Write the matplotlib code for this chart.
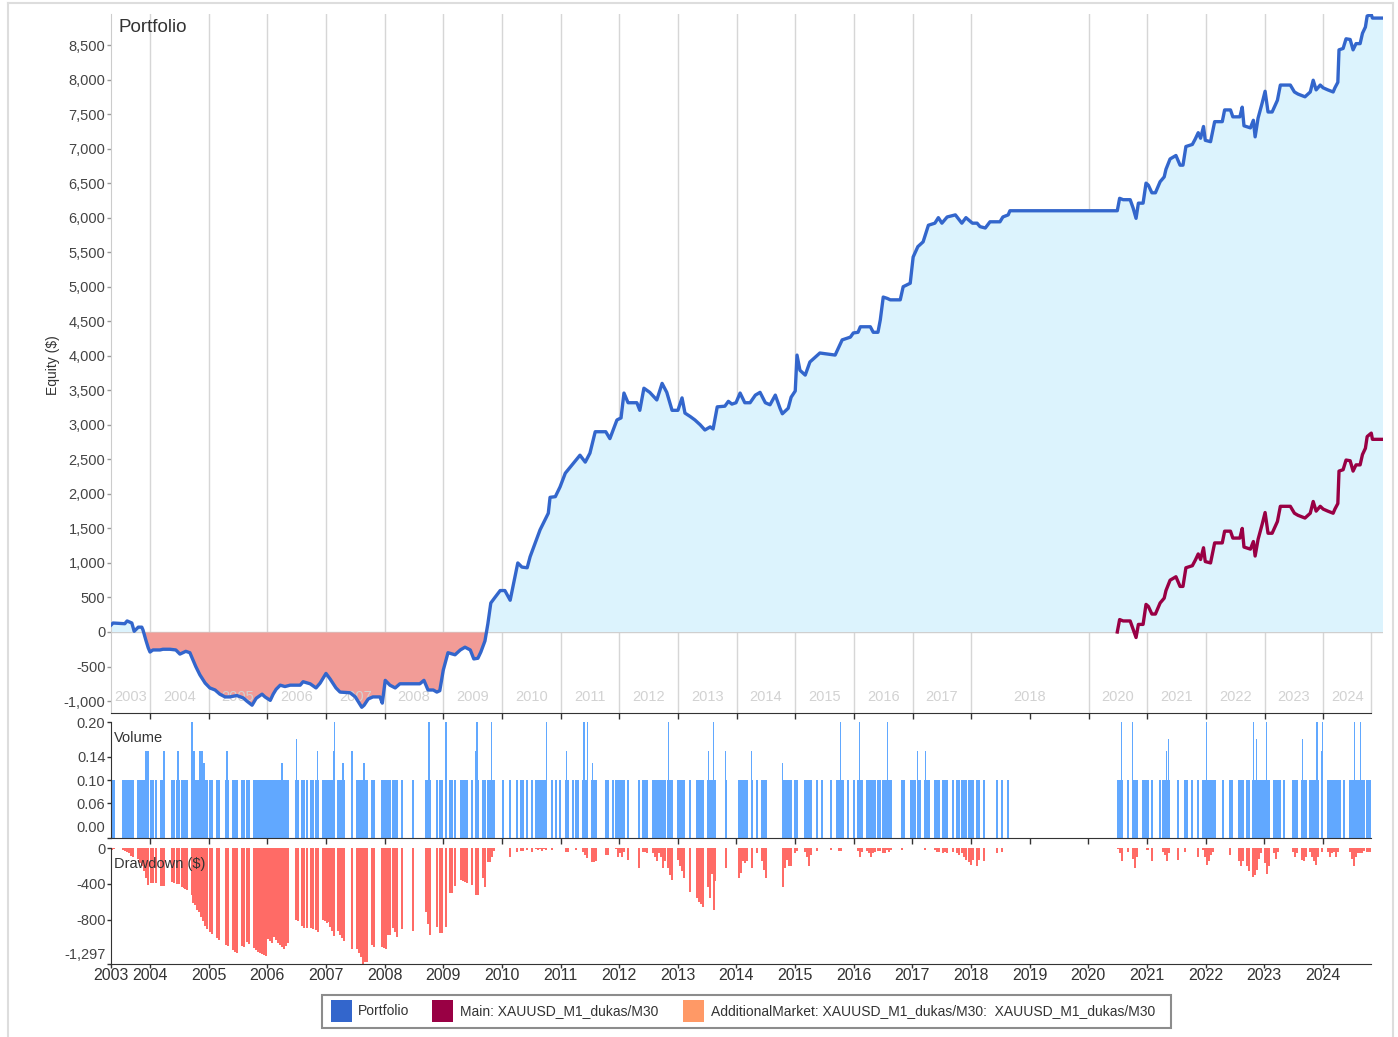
import matplotlib
matplotlib.use('Agg')
import matplotlib.pyplot as plt
from matplotlib.patches import Rectangle
from matplotlib.lines import Line2D
from matplotlib.ticker import FuncFormatter
import matplotlib.transforms as mtransforms
import numpy as np

plt.rcParams['font.family'] = ['Liberation Sans', 'DejaVu Sans']

# ---------------- data ----------------
# Portfolio equity ($) by decimal year
eq_x = [2003.335, 2003.37, 2003.57, 2003.61, 2003.69, 2003.73, 2003.80, 2003.86, 2003.88, 2003.93,
        2003.97, 2004.00, 2004.05, 2004.17, 2004.22, 2004.34, 2004.44, 2004.51, 2004.61, 2004.68,
        2004.73, 2004.78, 2004.85, 2004.94, 2005.02, 2005.11, 2005.19, 2005.28, 2005.36, 2005.48,
        2005.59, 2005.65, 2005.74, 2005.81, 2005.91, 2005.96, 2006.05, 2006.10, 2006.15, 2006.22,
        2006.30, 2006.39, 2006.56, 2006.61, 2006.73, 2006.83, 2006.90, 2007.00, 2007.07, 2007.17,
        2007.24, 2007.41, 2007.50, 2007.61, 2007.65, 2007.72, 2007.80, 2007.92, 2007.96, 2008.01,
        2008.09, 2008.18, 2008.26, 2008.43, 2008.60, 2008.67, 2008.74, 2008.83, 2008.89, 2008.94,
        2009.00, 2009.08, 2009.20, 2009.29, 2009.37, 2009.46, 2009.52, 2009.59, 2009.64, 2009.71,
        2009.76, 2009.81, 2009.88, 2009.97, 2010.05, 2010.14, 2010.27, 2010.34, 2010.43, 2010.48,
        2010.65, 2010.79, 2010.82, 2010.91, 2010.99, 2011.08, 2011.33, 2011.42, 2011.50, 2011.59,
        2011.77, 2011.84, 2011.96, 2012.03, 2012.08, 2012.15, 2012.30, 2012.35, 2012.42, 2012.52,
        2012.64, 2012.73, 2012.81, 2012.90, 2013.00, 2013.07, 2013.12, 2013.21, 2013.29, 2013.38,
        2013.46, 2013.55, 2013.60, 2013.67, 2013.80, 2013.86, 2013.92, 2013.99, 2014.06, 2014.14,
        2014.23, 2014.32, 2014.40, 2014.49, 2014.57, 2014.66, 2014.74, 2014.78, 2014.88, 2014.93,
        2015.00, 2015.03, 2015.08, 2015.17, 2015.25, 2015.42, 2015.68, 2015.80, 2015.94, 2015.99,
        2016.07, 2016.11, 2016.28, 2016.33, 2016.41, 2016.45, 2016.50, 2016.57, 2016.62, 2016.79,
        2016.84, 2016.96, 2017.01, 2017.09, 2017.18, 2017.27, 2017.38, 2017.44, 2017.50, 2017.59,
        2017.73, 2017.84, 2017.91, 2018.02, 2018.10, 2018.15, 2018.24, 2018.32, 2018.49, 2018.54,
        2018.63, 2018.66, 2020.49, 2020.53, 2020.59, 2020.71, 2020.76, 2020.81, 2020.85, 2020.93,
        2020.98, 2021.02, 2021.08, 2021.14, 2021.22, 2021.29, 2021.32, 2021.39, 2021.49, 2021.56,
        2021.61, 2021.66, 2021.77, 2021.82, 2021.87, 2021.91, 2021.96, 2021.99, 2022.08, 2022.15,
        2022.28, 2022.32, 2022.42, 2022.46, 2022.58, 2022.62, 2022.65, 2022.76, 2022.81, 2022.84,
        2022.89, 2022.96, 2023.01, 2023.06, 2023.13, 2023.22, 2023.27, 2023.44, 2023.51, 2023.57,
        2023.69, 2023.78, 2023.83, 2023.88, 2023.95, 2024.00, 2024.08, 2024.17, 2024.20, 2024.25,
        2024.27, 2024.34, 2024.39, 2024.46, 2024.51, 2024.56, 2024.63, 2024.67, 2024.72, 2024.75,
        2024.82, 2024.84, 2025.02]
eq_y = [100, 130, 120, 160, 130, 10, 70, 70, 30, -120,
        -230, -290, -260, -260, -250, -250, -260, -320, -280, -300,
        -400, -500, -620, -740, -810, -840, -900, -940, -940, -920,
        -955, -1000, -1060, -960, -900, -940, -990, -900, -830, -770,
        -790, -770, -770, -720, -750, -810, -740, -600, -680, -810,
        -870, -880, -940, -1090, -1060, -970, -940, -940, -1030, -700,
        -770, -810, -750, -750, -750, -700, -840, -840, -870, -850,
        -550, -300, -330, -260, -220, -260, -390, -380, -290, -130,
        120, 420, 500, 600, 600, 460, 1000, 940, 930, 1090,
        1480, 1720, 1950, 1960, 2100, 2300, 2560, 2460, 2590, 2900,
        2900, 2800, 3070, 3100, 3460, 3320, 3320, 3210, 3530, 3470,
        3360, 3600, 3470, 3210, 3210, 3390, 3170, 3120, 3070, 3000,
        2925, 2970, 2940, 3260, 3270, 3340, 3300, 3320, 3460, 3320,
        3320, 3430, 3470, 3320, 3290, 3430, 3240, 3160, 3240, 3400,
        3490, 4010, 3790, 3720, 3910, 4040, 4010, 4230, 4270, 4330,
        4340, 4420, 4420, 4340, 4340, 4520, 4850, 4830, 4810, 4810,
        5000, 5050, 5430, 5580, 5650, 5890, 5920, 6000, 5920, 6010,
        6040, 5920, 6000, 5920, 5920, 5870, 5850, 5940, 5940, 6010,
        6040, 6100, 6100, 6280, 6260, 6260, 6140, 5990, 6210, 6210,
        6500, 6470, 6360, 6360, 6520, 6590, 6700, 6850, 6900, 6760,
        6760, 7030, 7060, 7140, 7230, 7150, 7320, 7120, 7100, 7390,
        7390, 7560, 7560, 7460, 7460, 7600, 7330, 7300, 7410, 7170,
        7440, 7660, 7830, 7530, 7530, 7700, 7920, 7920, 7820, 7790,
        7750, 7820, 7990, 7850, 7920, 7880, 7850, 7820, 7880, 7960,
        8430, 8450, 8590, 8580, 8430, 8520, 8520, 8670, 8760, 8920,
        8940, 8890, 8890]

# Main: XAUUSD_M1_dukas/M30 equity ($)
main_x = [2020.49, 2020.53, 2020.59, 2020.71, 2020.76, 2020.81, 2020.85, 2020.93, 2020.98, 2021.02,
          2021.08, 2021.14, 2021.22, 2021.29, 2021.32, 2021.39, 2021.49, 2021.56, 2021.61, 2021.66,
          2021.77, 2021.82, 2021.87, 2021.91, 2021.96, 2021.99, 2022.08, 2022.15, 2022.28, 2022.32,
          2022.42, 2022.46, 2022.58, 2022.62, 2022.65, 2022.76, 2022.81, 2022.84, 2022.89, 2022.96,
          2023.01, 2023.06, 2023.13, 2023.22, 2023.27, 2023.44, 2023.51, 2023.57, 2023.69, 2023.78,
          2023.83, 2023.88, 2023.95, 2024.00, 2024.08, 2024.17, 2024.20, 2024.25, 2024.27, 2024.34,
          2024.39, 2024.46, 2024.51, 2024.56, 2024.63, 2024.67, 2024.72, 2024.75, 2024.82, 2024.84,
          2025.02]
main_y = [0, 180, 160, 160, 40, -80, 110, 110, 400, 370,
          260, 260, 420, 490, 600, 750, 800, 660, 660, 930,
          960, 1040, 1130, 1050, 1220, 1020, 1000, 1290, 1290, 1460,
          1460, 1360, 1360, 1500, 1230, 1200, 1310, 1100, 1340, 1560,
          1730, 1430, 1430, 1600, 1820, 1820, 1720, 1690, 1650, 1720,
          1890, 1750, 1820, 1780, 1750, 1720, 1780, 1860, 2330, 2350,
          2490, 2480, 2330, 2420, 2420, 2570, 2660, 2830, 2880, 2790,
          2790]

# Trades: date (decimal year) and drawdown ($) at that trade
trade_dates = [
    2003.352, 2003.386, 2003.540, 2003.574, 2003.608, 2003.642, 2003.676, 2003.710, 2003.795, 2003.829,
    2003.864, 2003.898, 2003.932, 2003.966, 2004.017, 2004.051, 2004.102, 2004.188, 2004.222, 2004.239,
    2004.375, 2004.409, 2004.460, 2004.494, 2004.546, 2004.580, 2004.597, 2004.631, 2004.716, 2004.733,
    2004.767, 2004.801, 2004.835, 2004.870, 2004.904, 2004.938, 2004.972, 2005.023, 2005.057, 2005.142,
    2005.176, 2005.296, 2005.330, 2005.415, 2005.449, 2005.483, 2005.569, 2005.603, 2005.654, 2005.688,
    2005.773, 2005.807, 2005.841, 2005.876, 2005.910, 2005.944, 2005.978, 2006.012, 2006.046, 2006.080,
    2006.114, 2006.148, 2006.182, 2006.217, 2006.251, 2006.285, 2006.319, 2006.353, 2006.489, 2006.523,
    2006.592, 2006.626, 2006.677, 2006.745, 2006.779, 2006.830, 2006.864, 2006.950, 2006.984, 2007.018,
    2007.035, 2007.069, 2007.103, 2007.137, 2007.205, 2007.240, 2007.274, 2007.308, 2007.444, 2007.529,
    2007.563, 2007.598, 2007.632, 2007.666, 2007.700, 2007.785, 2007.819, 2007.956, 2007.990, 2008.024,
    2008.058, 2008.092, 2008.143, 2008.177, 2008.211, 2008.297, 2008.484, 2008.706, 2008.740, 2008.774,
    2008.893, 2008.945, 2008.979, 2009.047, 2009.115, 2009.149, 2009.200, 2009.303, 2009.337, 2009.371,
    2009.405, 2009.490, 2009.558, 2009.592, 2009.678, 2009.712, 2009.763, 2009.797, 2009.831, 2009.865,
    2010.019, 2010.138, 2010.257, 2010.326, 2010.360, 2010.428, 2010.513, 2010.581, 2010.615, 2010.650,
    2010.684, 2010.718, 2010.752, 2010.854, 2010.922, 2010.991, 2011.093, 2011.127, 2011.212, 2011.263,
    2011.297, 2011.383, 2011.417, 2011.451, 2011.536, 2011.570, 2011.604, 2011.775, 2011.809, 2011.894,
    2011.945, 2011.979, 2012.014, 2012.048, 2012.082, 2012.150, 2012.337, 2012.406, 2012.440, 2012.474,
    2012.576, 2012.610, 2012.644, 2012.678, 2012.713, 2012.747, 2012.781, 2012.832, 2012.866, 2012.900,
    2013.002, 2013.037, 2013.071, 2013.105, 2013.207, 2013.326, 2013.360, 2013.395, 2013.429, 2013.514,
    2013.548, 2013.582, 2013.616, 2013.633, 2013.821, 2014.042, 2014.077, 2014.111, 2014.145, 2014.179,
    2014.264, 2014.349, 2014.435, 2014.469, 2014.503, 2014.793, 2014.827, 2014.861, 2014.895, 2014.929,
    2014.997, 2015.031, 2015.168, 2015.202, 2015.236, 2015.270, 2015.372, 2015.458, 2015.611, 2015.713,
    2015.747, 2015.782, 2015.816, 2015.901, 2016.003, 2016.071, 2016.106, 2016.140, 2016.225, 2016.259,
    2016.293, 2016.327, 2016.361, 2016.412, 2016.447, 2016.498, 2016.532, 2016.566, 2016.600, 2016.634,
    2016.822, 2016.856, 2016.975, 2017.009, 2017.043, 2017.094, 2017.129, 2017.214, 2017.248, 2017.282,
    2017.384, 2017.418, 2017.452, 2017.521, 2017.555, 2017.589, 2017.691, 2017.759, 2017.793, 2017.845,
    2017.879, 2017.913, 2017.964, 2017.998, 2018.032, 2018.100, 2018.134, 2018.220, 2018.441, 2018.527,
    2018.629, 2020.504, 2020.539, 2020.573, 2020.675, 2020.760, 2020.794, 2020.828, 2020.931, 2020.965,
    2020.999, 2021.016, 2021.084, 2021.221, 2021.272, 2021.306, 2021.340, 2021.374, 2021.527, 2021.647,
    2021.681, 2021.766, 2021.868, 2021.954, 2021.988, 2022.022, 2022.056, 2022.090, 2022.124, 2022.158,
    2022.295, 2022.414, 2022.448, 2022.567, 2022.602, 2022.636, 2022.704, 2022.738, 2022.806, 2022.840,
    2022.874, 2022.908, 2022.943, 2022.977, 2023.011, 2023.045, 2023.079, 2023.164, 2023.198, 2023.232,
    2023.267, 2023.335, 2023.488, 2023.522, 2023.556, 2023.642, 2023.676, 2023.710, 2023.778, 2023.812,
    2023.846, 2023.880, 2023.914, 2023.983, 2024.085, 2024.119, 2024.153, 2024.187, 2024.221, 2024.255,
    2024.290, 2024.358, 2024.460, 2024.494, 2024.528, 2024.562, 2024.596, 2024.631, 2024.665, 2024.699,
    2024.750, 2024.784, 2024.812]
trade_dd = [
    -20, -10, -20, -30, -40, -60, -90, -100, -120, -170,
    -200, -260, -330, -410, -390, -390, -390, -420, -430, -430,
    -380, -390, -400, -400, -440, -450, -460, -470, -520, -610,
    -640, -690, -720, -770, -820, -870, -910, -940, -960, -1010,
    -1030, -1090, -1100, -1140, -1160, -1170, -1100, -1110, -1050, -1070,
    -1120, -1140, -1160, -1170, -1190, -1200, -1210, -1020, -1040, -1060,
    -1000, -1030, -1060, -1080, -1110, -1130, -1100, -1060, -800, -820,
    -870, -890, -900, -900, -910, -920, -940, -800, -820, -840,
    -830, -880, -930, -980, -930, -970, -1010, -1040, -1130, -1130,
    -1170, -1220, -1297, -1270, -1280, -1090, -1110, -1110, -1120, -1130,
    -970, -970, -890, -940, -990, -910, -930, -720, -850, -970,
    -880, -950, -950, -880, -500, -500, -430, -360, -370, -380,
    -390, -410, -520, -520, -330, -440, -160, -160, -100, -30,
    0, -100, -40, -30, -30, -20, -40, -10, -20, -10,
    -30, -10, -20, -20, 0, 0, -40, -40, 0, -20,
    0, -50, -80, -110, -160, -160, -150, -80, -80, 0,
    -10, -100, -60, -100, -40, -130, -220, -40, -50, -60,
    -60, -100, -150, -60, -100, -220, -150, -220, -300, -360,
    -130, -200, -260, -340, -490, -560, -600, -630, -660, -440,
    -560, -290, -690, -370, -220, -330, -280, -150, -170, -150,
    -220, -60, -150, -250, -340, -440, -220, -130, -200, -200,
    -60, -30, -40, -100, -200, -80, -30, 0, -20, 0,
    -30, -30, 0, 0, 0, -30, -100, -40, -30, -60,
    -100, -60, -40, -30, -30, -60, -60, -20, -40, -20,
    -20, 0, 0, 0, 0, 0, 0, -20, 0, 0,
    -20, -40, -40, -60, -40, -60, -40, -60, -80, -60,
    -100, -130, -160, -190, -130, -200, -130, -150, -60, -40,
    0, -10, -60, -150, -40, -120, -220, -100, 0, 0,
    -20, -20, -150, 0, -40, -80, -150, -60, -130, -40,
    0, 0, -100, -20, -100, -190, -150, -80, -40, 0,
    0, -80, 0, -150, -200, -150, -200, -260, -320, -300,
    -250, -120, -60, 0, -170, -290, -200, -60, -120, -40,
    0, 0, -40, -100, -60, -130, -150, -100, -40, -100,
    -150, -190, -100, -40, -40, -100, -60, -40, -100, -40,
    0, 0, -40, -120, -200, -100, -60, -60, -60, -30,
    -40, -40, -40]
base_volume = 0.10

# Trades with a larger volume (lots)
spike_dates = [2003.932, 2003.966, 2004.239, 2004.477, 2004.716, 2004.750, 2004.853, 2004.887, 2004.921, 2005.313,
               2006.251, 2006.506, 2006.864, 2007.137, 2007.154, 2007.291, 2007.444, 2007.649, 2008.757, 2009.047,
               2009.558, 2009.575, 2009.592, 2009.831, 2010.769, 2011.110, 2011.400, 2011.468, 2011.553, 2012.849,
               2013.531, 2013.616, 2013.821, 2014.264, 2014.793, 2015.782, 2016.106, 2016.583, 2017.094, 2017.231,
               2020.573, 2020.760, 2021.340, 2021.374, 2022.022, 2022.823, 2022.874, 2023.045, 2023.659, 2023.897,
               2023.914, 2023.983, 2024.000, 2024.545, 2024.648]
spike_vols = [0.15, 0.15, 0.15, 0.15, 0.20, 0.15, 0.15, 0.15, 0.13, 0.15,
              0.13, 0.17, 0.15, 0.15, 0.20, 0.13, 0.15, 0.13, 0.20, 0.20,
              0.15, 0.20, 0.20, 0.20, 0.20, 0.15, 0.20, 0.20, 0.13, 0.20,
              0.15, 0.20, 0.15, 0.15, 0.13, 0.20, 0.20, 0.20, 0.15, 0.15,
              0.20, 0.20, 0.15, 0.17, 0.20, 0.20, 0.17, 0.20, 0.17, 0.20,
              0.20, 0.15, 0.20, 0.20, 0.20]

years = list(range(2004, 2025))
grid_years = [y for y in years if y != 2019]
x_start, x_end, x_end_top = 2003.335, 2024.82, 2025.02
eq_ticks = list(range(-1000, 8501, 500))
vol_ticks = [0.0, 0.06, 0.10, 0.14, 0.20]
dd_ticks = [0, -400, -800, -1297]
legend_labels = ['Portfolio', 'Main: XAUUSD_M1_dukas/M30',
                 'AdditionalMarket: XAUUSD_M1_dukas/M30:  XAUUSD_M1_dukas/M30']
legend_colors = ['#3366cc', '#990044', '#ff9966']

# ---------------- figure ----------------
W, H = 1398, 1037
fig = plt.figure(figsize=(W / 100, H / 100), dpi=100)


def rect(l, t, r, b):
    return [l / W, 1 - b / H, (r - l) / W, (b - t) / H]


TXT = '#444444'
ax = fig.add_axes(rect(111, 14, 1383, 713))
axv = fig.add_axes(rect(111, 722, 1371, 838))
axd = fig.add_axes(rect(111, 848, 1371, 964))

# --- equity panel
ax.set_xlim(x_start, x_end_top)
ax.set_ylim(-1173, 8949)
for g in grid_years + [x_end]:
    ax.axvline(g, color='#d6d6d6', lw=1, zorder=0)
ax.axhline(0, color='#cfcfcf', lw=1, zorder=1)
ex = np.array(eq_x)
ey = np.array(eq_y)
ax.fill_between(ex, ey, 0, where=ey >= 0, interpolate=True, color='#dcf3fd', lw=0, zorder=1)
ax.fill_between(ex, ey, 0, where=ey <= 0, interpolate=True, color='#f29c97', lw=0, zorder=1)
ax.plot(ex, ey, color='#3366cc', lw=2.4, zorder=3, solid_joinstyle='round')
ax.plot(main_x, main_y, color='#990044', lw=2.4, zorder=3, solid_joinstyle='round')

for s in ['top', 'right']:
    ax.spines[s].set_visible(False)
ax.spines['left'].set_color('#cccccc')
ax.spines['bottom'].set_color('#333333')
ax.spines['bottom'].set_bounds(x_start, x_end)
ax.set_yticks(eq_ticks)
ax.yaxis.set_major_formatter(FuncFormatter(lambda v, p: f'{v:,.0f}'))
ax.tick_params(axis='y', length=3, width=1, color='#999999', labelsize=10.5,
               labelcolor=TXT, pad=1)
ax.set_xticks(years)
ax.tick_params(axis='x', length=4, width=1, color='#333333', labelbottom=False)

bounds = [x_start] + grid_years + [x_end]
blab = [2003] + grid_years
trans = mtransforms.blended_transform_factory(ax.transData, ax.transAxes)
for i, lab in enumerate(blab):
    xc = (bounds[i] + bounds[i + 1]) / 2
    ax.text(xc, 0.023, str(lab), transform=trans, ha='center', va='center',
            fontsize=10.5, color='#d2d2d2', zorder=2)

# --- volume panel
axv.set_xlim(x_start, x_end)
axv.set_ylim(0, 0.20)
axv.bar(trade_dates, [base_volume] * len(trade_dates), width=0.028, color='#61a8ff', lw=0)
axv.bar(spike_dates, spike_vols, width=0.018, color='#61a8ff', lw=0)
for s in ['top', 'right']:
    axv.spines[s].set_visible(False)
axv.spines['left'].set_color('#333333')
axv.spines['bottom'].set_color('#333333')
axv.set_yticks(vol_ticks)
axv.set_yticklabels([f'{v:.2f}' for v in vol_ticks])
axv.tick_params(axis='y', length=3, width=1, color='#333333', labelsize=10.5,
                labelcolor=TXT, pad=1)
axv.set_xticks(years)
axv.tick_params(axis='x', length=4, width=1, color='#333333', labelbottom=False)

# --- drawdown panel
axd.set_xlim(x_start, x_end)
axd.set_ylim(-1297, 0)
axd.bar(trade_dates, trade_dd, width=0.028, color='#ff6b66', lw=0)
for s in ['top', 'right']:
    axd.spines[s].set_visible(False)
axd.spines['left'].set_color('#333333')
axd.spines['bottom'].set_color('#333333')
axd.set_yticks(dd_ticks)
axd.set_yticklabels([f'{v:,.0f}' for v in dd_ticks])
axd.tick_params(axis='y', length=3, width=1, color='#333333', labelsize=10.5,
                labelcolor=TXT, pad=1)
axd.set_xticks([x_start] + years)
axd.set_xticklabels(['2003'] + [str(y) for y in years])
axd.tick_params(axis='x', length=3, width=1, color='#333333', labelsize=11.5,
                labelcolor='#333333', pad=0)

fig.canvas.draw()
# shift the extreme labels upward like the original
lab0 = axv.get_yticklabels()[0]
lab0.set_transform(lab0.get_transform() + mtransforms.ScaledTranslation(0, 11 / 100, fig.dpi_scale_trans))
labm = axd.get_yticklabels()[-1]
labm.set_transform(labm.get_transform() + mtransforms.ScaledTranslation(0, 10 / 100, fig.dpi_scale_trans))

# --- texts
fig.text(119 / W, 1 - 27 / H, 'Portfolio', fontsize=13.5, color='#333333', ha='left', va='center')
fig.text(114 / W, 1 - 738 / H, 'Volume', fontsize=10.5, color='#333333', ha='left', va='center')
fig.text(114 / W, 1 - 864 / H, 'Drawdown ($)', fontsize=10.5, color='#333333', ha='left', va='center')
fig.text(53 / W, 1 - 365 / H, 'Equity ($)', fontsize=10, color='#333333', rotation=90,
         ha='center', va='center')

# --- legend (drawn manually)
fig.add_artist(Rectangle((322 / W, 1 - 1028 / H), (1171 - 322) / W, 33 / H,
                         transform=fig.transFigure, fill=False, edgecolor='#8c8c8c', lw=1.5))
patch_x = [331, 432, 683]
text_x = [358, 460, 711]
for px_, tx_, c, lab in zip(patch_x, text_x, legend_colors, legend_labels):
    fig.add_artist(Rectangle((px_ / W, 1 - 1022 / H), 21 / W, 22 / H,
                             transform=fig.transFigure, color=c, lw=0))
    fig.text(tx_ / W, 1 - 1011 / H, lab, fontsize=10, color='#333333', ha='left', va='center')

# --- outer frame
for xs, ys in [([7.5, 7.5], [2.5, 1037]), ([7.5, 1392.5], [2.5, 2.5]), ([1392.5, 1392.5], [2.5, 1037])]:
    fig.add_artist(Line2D([x / W for x in xs], [1 - y / H for y in ys],
                          transform=fig.transFigure, color='#dddddd', lw=1.5))

fig.savefig('out.png', dpi=100)
